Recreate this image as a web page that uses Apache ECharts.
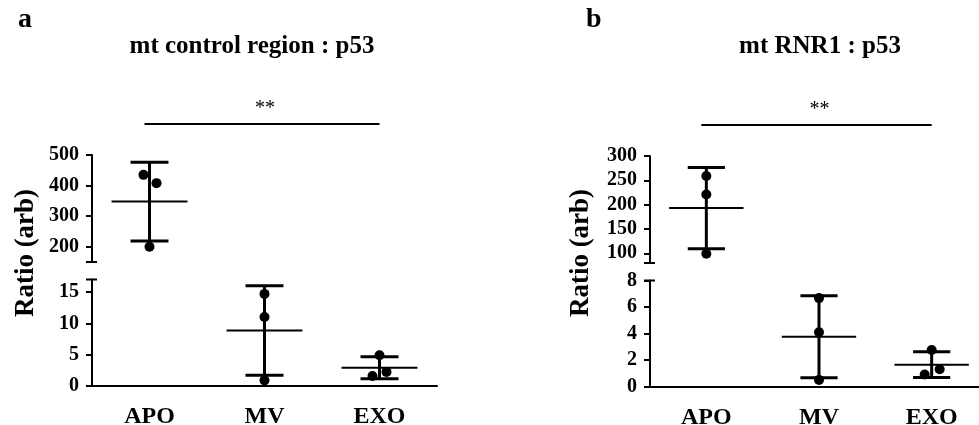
<!DOCTYPE html>
<html>
<head>
<meta charset="utf-8">
<script src="https://cdn.jsdelivr.net/npm/echarts@6/dist/echarts.min.js"></script>
<style>
html,body{margin:0;padding:0;background:#fff;}
#chart{width:979px;height:425px;}
</style>
</head>
<body>
<div id="chart"></div>
<script>
// ---------- data ----------
const categories = ['APO', 'MV', 'EXO'];

// panel a : mt control region : p53
const aAPO = [435, 408, 200];
const aMV  = [14.7, 11.0, 0.9];
const aEXO = [4.9, 2.25, 1.6];

// panel b : mt RNR1 : p53
const bAPO = [259, 221, 99];
const bMV  = [6.67, 4.1, 0.5];
const bEXO = [2.75, 1.3, 0.9];

// broken y-axis ranges and tick labels
const aUpperRange = [150, 500];
const aLowerRange = [0, 17];
const aUpperTicks = [200, 300, 400, 500];
const aLowerTicks = [0, 5, 10, 15];

const bUpperRange = [80, 300];
const bLowerRange = [0, 8];
const bUpperTicks = [100, 150, 200, 250, 300];
const bLowerTicks = [0, 2, 4, 6, 8];

const titles = ['mt control region : p53', 'mt RNR1 : p53'];
const panelLetters = ['a', 'b'];
const sigLabel = '**';
const yName = 'Ratio (arb)';

// horizontal scatter jitter (pixels) of the dots
const aJitter = [[-6, 7, 0], [0, 0, 0], [0, 7, -7]];
const bJitter = [[0, 0, 0], [0, 0, 0], [0, 8, -7]];

// ---------- helpers ----------
const FONT = '"Liberation Serif", "Times New Roman", serif';
const BLACK = '#000';

function meanSD(arr) {
  const n = arr.length;
  const m = arr.reduce((s, v) => s + v, 0) / n;
  const sd = Math.sqrt(arr.reduce((s, v) => s + (v - m) * (v - m), 0) / (n - 1));
  return [m, sd];
}

const chart = echarts.init(document.getElementById('chart'), null, {renderer: 'canvas'});

const panels = [
  {groups: [aAPO, aMV, aEXO], jitter: aJitter, upper: aUpperRange, lower: aLowerRange,
   upTicks: aUpperTicks, lowTicks: aLowerTicks,
   gUp: {left: 92, top: 155, width: 345, height: 107},
   gLow: {left: 92, top: 279.5, width: 345, height: 106.5}},
  {groups: [bAPO, bMV, bEXO], jitter: bJitter, upper: bUpperRange, lower: bLowerRange,
   upTicks: bUpperTicks, lowTicks: bLowerTicks,
   gUp: {left: 650, top: 156, width: 338, height: 107},
   gLow: {left: 650, top: 280.5, width: 338, height: 106}}
];

const grid = [], xAxis = [], yAxis = [], series = [];

function errRender(params, api) {
  const cs = params.coordSys;
  const ci = api.value(0), m = api.value(1), lo = api.value(2), hi = api.value(3);
  const band = api.size([1, 0])[0];
  const clampY = y => Math.max(cs.y, Math.min(cs.y + cs.height, y));
  const pm = api.coord([ci, m]);
  const plo = api.coord([ci, lo]);
  const phi = api.coord([ci, hi]);
  const x = pm[0];
  const children = [];
  const y1 = clampY(phi[1]), y2 = clampY(plo[1]);
  if (y2 > y1) children.push({type: 'line', shape: {x1: x, y1: y1, x2: x, y2: y2}, style: {stroke: BLACK, lineWidth: 3}});
  const capHalf = band * 0.165, meanHalf = band * 0.33;
  [phi[1], plo[1]].forEach(y => {
    if (y >= cs.y - 0.5 && y <= cs.y + cs.height + 0.5)
      children.push({type: 'line', shape: {x1: x - capHalf, y1: y, x2: x + capHalf, y2: y}, style: {stroke: BLACK, lineWidth: 3}});
  });
  if (pm[1] >= cs.y && pm[1] <= cs.y + cs.height)
    children.push({type: 'line', shape: {x1: x - meanHalf, y1: pm[1], x2: x + meanHalf, y2: pm[1]}, style: {stroke: BLACK, lineWidth: 2}});
  return {type: 'group', children: children};
}

function breakCapRender(where) {
  return function (params, api) {
    const cs = params.coordSys;
    const y = where === 'bottom' ? cs.y + cs.height : cs.y;
    return {type: 'line', shape: {x1: cs.x - 6, y1: y, x2: cs.x + 5, y2: y}, style: {stroke: BLACK, lineWidth: 2}};
  };
}

function sigRender(params, api) {
  const cs = params.coordSys;
  const x1 = api.coord([api.value(0), 0])[0] - 5;
  const x2 = api.coord([api.value(1), 0])[0];
  const y = cs.y - 31;
  return {type: 'group', children: [
    {type: 'line', shape: {x1: x1, y1: y, x2: x2, y2: y}, style: {stroke: BLACK, lineWidth: 2}},
    {type: 'text', x: (x1 + x2) / 2 + 3, y: y - 15, style: {text: sigLabel, font: '20px ' + FONT, fill: BLACK, align: 'center', verticalAlign: 'middle'}}
  ]};
}

const tickLabel = {fontFamily: FONT, fontWeight: 'bold', fontSize: 20, color: BLACK, margin: 13};

panels.forEach((p, pi) => {
  const gUp = grid.length; grid.push(Object.assign({outerBoundsMode: 'none', containLabel: false}, p.gUp));
  const gLow = grid.length; grid.push(Object.assign({outerBoundsMode: 'none', containLabel: false}, p.gLow));

  xAxis.push({type: 'category', data: categories, gridIndex: gUp, show: false});
  xAxis.push({type: 'category', data: categories, gridIndex: gLow,
    axisLine: {lineStyle: {color: BLACK, width: 2}},
    axisTick: {alignWithLabel: true, length: 6, lineStyle: {color: BLACK, width: 2}},
    axisLabel: {fontFamily: FONT, fontWeight: 'bold', fontSize: 24, color: BLACK, margin: 19}});

  yAxis.push({type: 'value', gridIndex: gUp, min: p.upper[0], max: p.upper[1],
    axisLine: {show: true, lineStyle: {color: BLACK, width: 2}},
    axisTick: {show: true, length: 6, lineStyle: {color: BLACK, width: 2}, customValues: p.upTicks},
    axisLabel: Object.assign({customValues: p.upTicks}, tickLabel),
    splitLine: {show: false}});
  yAxis.push({type: 'value', gridIndex: gLow, min: p.lower[0], max: p.lower[1],
    axisLine: {show: true, lineStyle: {color: BLACK, width: 2}},
    axisTick: {show: true, length: 6, lineStyle: {color: BLACK, width: 2}, customValues: p.lowTicks},
    axisLabel: Object.assign({customValues: p.lowTicks}, tickLabel),
    splitLine: {show: false}});

  [[gUp, p.upper], [gLow, p.lower]].forEach(([gi, range]) => {
    const errData = [], ptData = [];
    p.groups.forEach((vals, ci) => {
      const [m, sd] = meanSD(vals);
      if (m >= range[0] && m <= range[1]) {
        errData.push([ci, m, m - sd, m + sd]);
        vals.forEach((v, k) => {
          if (v >= range[0] && v <= range[1])
            ptData.push({value: [ci, v], symbolOffset: [p.jitter[ci][k], 0]});
        });
      }
    });
    series.push({type: 'custom', xAxisIndex: gi, yAxisIndex: gi, renderItem: errRender,
      data: errData, clip: false, silent: true, z: 3});
    series.push({type: 'scatter', xAxisIndex: gi, yAxisIndex: gi, data: ptData,
      symbol: 'circle', symbolSize: 10, itemStyle: {color: BLACK, opacity: 1}, silent: true, z: 4});
  });

  // axis break end caps
  series.push({type: 'custom', xAxisIndex: gUp, yAxisIndex: gUp, renderItem: breakCapRender('bottom'),
    data: [[0, p.upper[0]]], clip: false, silent: true, z: 5});
  series.push({type: 'custom', xAxisIndex: gLow, yAxisIndex: gLow, renderItem: breakCapRender('top'),
    data: [[0, p.lower[1]]], clip: false, silent: true, z: 5});
  // significance bar
  series.push({type: 'custom', xAxisIndex: gUp, yAxisIndex: gUp, renderItem: sigRender,
    data: [[0, categories.length - 1]], clip: false, silent: true, z: 5});
});

const graphic = [
  {type: 'text', left: 18, top: 6, style: {text: panelLetters[0], font: 'bold 28px ' + FONT, fill: BLACK}},
  {type: 'text', left: 586, top: 6, style: {text: panelLetters[1], font: 'bold 28px ' + FONT, fill: BLACK}},
  {type: 'text', x: 252, y: 47, style: {text: titles[0], font: 'bold 25px ' + FONT, fill: BLACK, align: 'center', verticalAlign: 'middle'}},
  {type: 'text', x: 820, y: 47, style: {text: titles[1], font: 'bold 25px ' + FONT, fill: BLACK, align: 'center', verticalAlign: 'middle'}},
  {type: 'text', x: 26, y: 253, rotation: Math.PI / 2, style: {text: yName, font: 'bold 27px ' + FONT, fill: BLACK, align: 'center', verticalAlign: 'middle'}},
  {type: 'text', x: 581, y: 253, rotation: Math.PI / 2, style: {text: yName, font: 'bold 27px ' + FONT, fill: BLACK, align: 'center', verticalAlign: 'middle'}}
];

chart.setOption({
  animation: false,
  backgroundColor: '#fff',
  grid: grid, xAxis: xAxis, yAxis: yAxis, series: series, graphic: graphic
});
</script>
</body>
</html>
